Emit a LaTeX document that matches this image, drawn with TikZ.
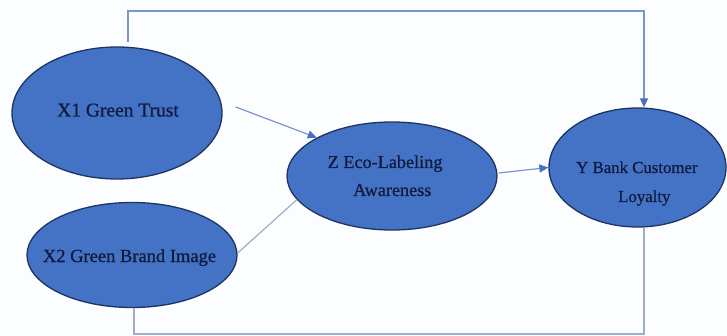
\documentclass[tikz,border=0pt]{standalone}
\usepackage{fontspec}
\setmainfont{Liberation Serif}
\newfontfamily\lblfont{Liberation Serif}[FakeBold=0.6]
\usetikzlibrary{shapes.geometric,arrows.meta}

\definecolor{blobfill}{RGB}{68,114,196}
\definecolor{blobedge}{RGB}{30,52,98}
\definecolor{labelink}{RGB}{16,26,60}
\definecolor{linkblue}{RGB}{122,148,205}
\definecolor{linkgray}{RGB}{160,172,200}
\definecolor{tipblue}{RGB}{72,112,192}
\definecolor{paper}{RGB}{252,253,254}

\tikzset{
  blob/.style={ellipse, draw=blobedge, fill=blobfill, line width=1.3pt, inner sep=0pt},
  lbl/.style={text=labelink, inner sep=0pt},
  arrowlink/.style={draw=linkblue, line width=1.2pt,
    -{Triangle[length=9pt,width=8pt,color=tipblue,fill=tipblue]}},
  plainlink/.style={draw=linkgray, line width=1.2pt}
}

\begin{document}
\begin{tikzpicture}[x=1pt, y=-1pt]
  % canvas
  \fill[paper] (0,0) rectangle (727,336);
  \useasboundingbox (0,0) rectangle (727,336);

  % constructs
  \node[blob, minimum width=210pt, minimum height=132pt] (x1) at (117,113) {};
  \node[blob, minimum width=210pt, minimum height=105pt] (x2) at (132,255) {};
  \node[blob, minimum width=210pt, minimum height=108pt] (z)  at (392,176) {};
  \node[blob, minimum width=177pt, minimum height=119pt] (y)  at (637.5,167.5) {};

  % labels
  \node[lbl, anchor=base, font=\lblfont\fontsize{19.5}{24}\selectfont] (x1t) at (118,116.5) {X1 Green Trust};
  \node[lbl, anchor=base, font=\lblfont\fontsize{18.5}{22}\selectfont] (x2t) at (129.5,262) {X2 Green Brand Image};
  \node[lbl, anchor=base west, font=\lblfont\fontsize{18.2}{22}\selectfont] (zt1) at (327.5,168) {Z Eco-Labeling};
  \node[lbl, anchor=base west, font=\lblfont\fontsize{18.2}{22}\selectfont] (zt2) at (353,196) {Awareness};
  \node[lbl, anchor=base west, font=\lblfont\fontsize{16.8}{20}\selectfont] (yt1) at (576,173) {Y Bank Customer};
  \node[lbl, anchor=base west, font=\lblfont\fontsize{16.8}{20}\selectfont] (yt2) at (618,202) {Loyalty};

  % corners of the elbow connectors
  \coordinate (topturn) at (644,11);
  \coordinate (botturn) at (644,334);

  % direct paths
  \draw[arrowlink] ([shift={(13,-6)}]x1.east) -- (z.153);
  \draw[plainlink] ([shift={(0,-2)}]x2.east) -- (z.194);
  \draw[arrowlink] ([shift={(1,-3)}]z.east) -- (y.west);

  % elbow paths
  \draw[arrowlink] ([shift={(11,-4)}]x1.north) |- (topturn) -- (topturn |- y.north);
  \draw[plainlink] ([shift={(2,0)}]x2.south) |- (botturn) -- (botturn |- y.south);
\end{tikzpicture}
\end{document}
